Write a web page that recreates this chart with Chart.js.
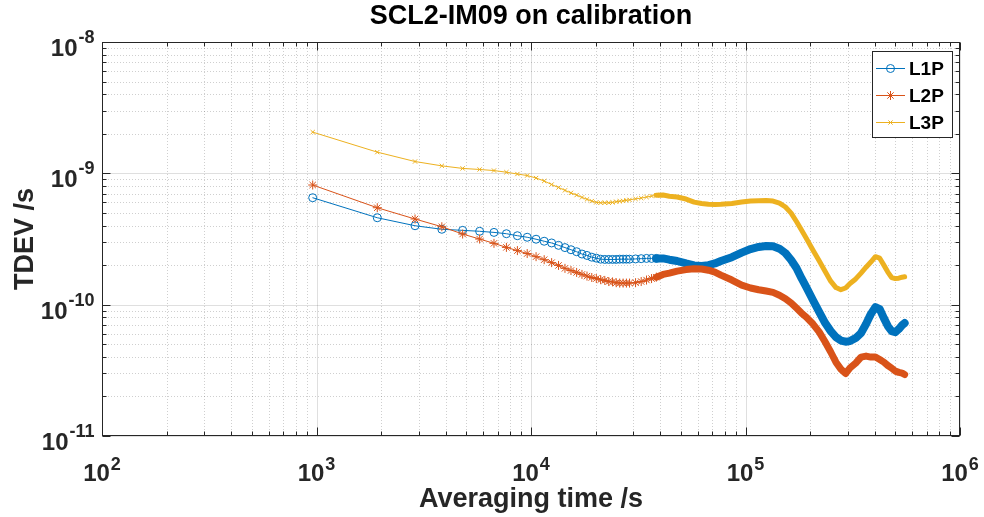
<!DOCTYPE html>
<html>
<head>
<meta charset="UTF-8">
<title>SCL2-IM09 on calibration</title>
<script src="https://cdn.jsdelivr.net/npm/chart.js@4"></script>
<style>
  html, body { margin: 0; padding: 0; background: #fff; }
  #wrap { width: 984px; height: 517px; }
</style>
</head>
<body>
<div id="wrap"><canvas id="tdev" width="984" height="517"></canvas></div>
<script>
// averaging time (s), multiples of 960 s
const taus = [
  960, 1920, 2880, 3840, 4800, 5760, 6720, 7680, 8640, 9600,
  10560, 11520, 12480, 13440, 14400, 15360, 16320, 17280, 18240, 19200,
  20160, 21120, 22080, 23040, 24000, 24960, 25920, 26880, 27840, 28800,
  30720, 32640, 34560, 36480, 38400, 41280, 44160, 48000, 52800, 57600,
  62400, 67200, 72000, 76800, 86400, 96000, 105600, 115200, 124800, 134400,
  144000, 153600, 163200, 172800, 182400, 192000, 206400, 220800, 235200, 249600,
  264000, 278400, 292800, 307200, 326400, 345600, 364800, 384000, 403200, 422400,
  441600, 460800, 480000, 499200, 518400, 537600, 552000
];

// TDEV (s)
const l1p = [
  6.52e-10, 4.59e-10, 3.99e-10, 3.75e-10, 3.68e-10, 3.62e-10, 3.55e-10, 3.47e-10, 3.35e-10, 3.26e-10,
  3.15e-10, 3.04e-10, 2.95e-10, 2.83e-10, 2.72e-10, 2.62e-10, 2.53e-10, 2.43e-10, 2.37e-10, 2.30e-10,
  2.26e-10, 2.22e-10, 2.21e-10, 2.21e-10, 2.21e-10, 2.21e-10, 2.22e-10, 2.22e-10, 2.22e-10, 2.22e-10,
  2.23e-10, 2.24e-10, 2.25e-10, 2.25e-10, 2.25e-10, 2.25e-10, 2.20e-10, 2.15e-10, 2.06e-10, 1.99e-10,
  1.97e-10, 2.00e-10, 2.06e-10, 2.15e-10, 2.30e-10, 2.49e-10, 2.65e-10, 2.75e-10, 2.80e-10, 2.78e-10,
  2.67e-10, 2.47e-10, 2.19e-10, 1.90e-10, 1.59e-10, 1.36e-10, 1.08e-10, 8.78e-11, 7.24e-11, 6.29e-11,
  5.66e-11, 5.33e-11, 5.22e-11, 5.28e-11, 5.57e-11, 6.08e-11, 7.12e-11, 8.48e-11, 9.59e-11, 9.26e-11,
  7.90e-11, 6.87e-11, 6.29e-11, 6.18e-11, 6.52e-11, 6.99e-11, 7.24e-11
];
const l2p = [
  8.15e-10, 5.47e-10, 4.49e-10, 3.92e-10, 3.45e-10, 3.16e-10, 2.93e-10, 2.73e-10, 2.58e-10, 2.45e-10,
  2.32e-10, 2.20e-10, 2.09e-10, 1.99e-10, 1.89e-10, 1.82e-10, 1.76e-10, 1.70e-10, 1.65e-10, 1.61e-10,
  1.58e-10, 1.55e-10, 1.53e-10, 1.50e-10, 1.49e-10, 1.47e-10, 1.46e-10, 1.46e-10, 1.46e-10, 1.46e-10,
  1.47e-10, 1.50e-10, 1.54e-10, 1.58e-10, 1.62e-10, 1.70e-10, 1.74e-10, 1.80e-10, 1.85e-10, 1.88e-10,
  1.87e-10, 1.83e-10, 1.77e-10, 1.68e-10, 1.54e-10, 1.41e-10, 1.34e-10, 1.30e-10, 1.27e-10, 1.24e-10,
  1.18e-10, 1.11e-10, 1.03e-10, 9.42e-11, 8.63e-11, 8.04e-11, 7.12e-11, 6.18e-11, 5.19e-11, 4.36e-11,
  3.65e-11, 3.23e-11, 2.99e-11, 3.30e-11, 3.59e-11, 3.99e-11, 4.06e-11, 3.99e-11, 3.99e-11, 3.82e-11,
  3.65e-11, 3.44e-11, 3.29e-11, 3.12e-11, 3.05e-11, 3.01e-11, 2.94e-11
];
const l3p = [
  2.06e-9, 1.45e-9, 1.23e-9, 1.14e-9, 1.09e-9, 1.07e-9, 1.05e-9, 1.02e-9, 9.88e-10, 9.62e-10,
  9.21e-10, 8.74e-10, 8.22e-10, 7.80e-10, 7.42e-10, 7.10e-10, 6.83e-10, 6.56e-10, 6.34e-10, 6.15e-10,
  6.01e-10, 5.97e-10, 5.97e-10, 5.97e-10, 6.01e-10, 6.08e-10, 6.13e-10, 6.17e-10, 6.23e-10, 6.28e-10,
  6.39e-10, 6.48e-10, 6.60e-10, 6.71e-10, 6.80e-10, 6.83e-10, 6.70e-10, 6.60e-10, 6.37e-10, 6.04e-10,
  5.89e-10, 5.81e-10, 5.80e-10, 5.81e-10, 5.89e-10, 6.04e-10, 6.15e-10, 6.18e-10, 6.20e-10, 6.15e-10,
  5.94e-10, 5.54e-10, 4.98e-10, 4.30e-10, 3.70e-10, 3.21e-10, 2.60e-10, 2.15e-10, 1.79e-10, 1.51e-10,
  1.35e-10, 1.30e-10, 1.34e-10, 1.45e-10, 1.57e-10, 1.74e-10, 1.93e-10, 2.11e-10, 2.32e-10, 2.26e-10,
  2.00e-10, 1.77e-10, 1.61e-10, 1.58e-10, 1.59e-10, 1.62e-10, 1.63e-10
];

const seriesNames = ['L1P', 'L2P', 'L3P'];
const xDecades = [1e2, 1e3, 1e4, 1e5, 1e6];
const xTickExp = ['2', '3', '4', '5', '6'];
const yDecades = [1e-11, 1e-10, 1e-9, 1e-8];
const yTickExp = ['-11', '-10', '-9', '-8'];

const titleText = 'SCL2-IM09 on calibration';
const xTitle = 'Averaging time /s';
const yTitle = 'TDEV /s';

// from this index on the markers pile up into a solid band
const denseFrom = 34;

const FONT = '"Liberation Sans", Arial, Helvetica, sans-serif';
const INK = '#262626';
const colors = ['#0072BD', '#D95319', '#EDB120'];
const styles = ['circle', 'star', 'crossRot'];
const radii = [4, 4.5, 3];
const bands = [8, 7, 5];

function makeSet(k, values) {
    return {
        label: seriesNames[k],
        order: 3 - k,
        data: taus.map((t, i) => ({ x: t, y: values[i] })),
        borderColor: colors[k],
        backgroundColor: colors[k],
        borderWidth: 1,
        borderJoinStyle: 'round',
        borderCapStyle: 'round',
        pointStyle: styles[k],
        pointRadius: ctx => ctx.dataIndex <= denseFrom ? radii[k] : 0,
        pointHoverRadius: 0,
        pointBorderWidth: 1,
        pointBorderColor: colors[k],
        pointBackgroundColor: 'rgba(0,0,0,0)',
        segment: {
            borderWidth: ctx => ctx.p0DataIndex >= denseFrom ? bands[k] : 1
        },
        tension: 0,
        fill: false
    };
}

// 10^n label with a raised exponent
function powLabel(ctx, exp, x, yBase, yExp, mode) {
    ctx.font = 'bold 24px ' + FONT;
    const wb = ctx.measureText('10').width;
    ctx.font = 'bold 18px ' + FONT;
    const we = ctx.measureText(exp).width;
    const left = mode === 'x' ? x - (wb + we + 1) / 2 : x - wb - we - 1;
    ctx.textAlign = 'left';
    ctx.textBaseline = 'alphabetic';
    ctx.font = 'bold 24px ' + FONT;
    ctx.fillText('10', left, yBase);
    ctx.font = 'bold 18px ' + FONT;
    ctx.fillText(exp, left + wb + 1, yExp);
}

function marker(ctx, style, x, y, r) {
    ctx.beginPath();
    if (style === 'circle') {
        ctx.arc(x, y, r, 0, Math.PI * 2);
    } else if (style === 'star') {
        const e = r * 0.7071;
        ctx.moveTo(x - r, y); ctx.lineTo(x + r, y);
        ctx.moveTo(x, y - r); ctx.lineTo(x, y + r);
        ctx.moveTo(x - e, y - e); ctx.lineTo(x + e, y + e);
        ctx.moveTo(x - e, y + e); ctx.lineTo(x + e, y - e);
    } else {
        const d = r * 0.7071;
        ctx.moveTo(x - d, y - d); ctx.lineTo(x + d, y + d);
        ctx.moveTo(x - d, y + d); ctx.lineTo(x + d, y - d);
    }
    ctx.stroke();
}

const matlabAxes = {
    id: 'matlabAxes',
    beforeDraw(chart) {
        const ctx = chart.ctx;
        ctx.save();
        ctx.fillStyle = '#fff';
        ctx.fillRect(0, 0, chart.width, chart.height);
        ctx.restore();
    },
    beforeDatasetsDraw(chart) {
        const ctx = chart.ctx, a = chart.chartArea;
        const xs = chart.scales.x, ys = chart.scales.y;
        ctx.save();
        ctx.lineWidth = 1;
        // minor grid, dotted
        ctx.setLineDash([1, 2]);
        ctx.strokeStyle = 'rgba(38,38,38,0.22)';
        for (let i = 0; i < xDecades.length - 1; i++) {
            for (let m = 2; m <= 9; m++) {
                const px = Math.round(xs.getPixelForValue(m * xDecades[i])) + 0.5;
                ctx.beginPath(); ctx.moveTo(px, a.top); ctx.lineTo(px, a.bottom); ctx.stroke();
            }
        }
        for (let i = 0; i < yDecades.length - 1; i++) {
            for (let m = 2; m <= 9; m++) {
                const py = Math.round(ys.getPixelForValue(m * yDecades[i])) + 0.5;
                ctx.beginPath(); ctx.moveTo(a.left, py); ctx.lineTo(a.right, py); ctx.stroke();
            }
        }
        // major grid, solid
        ctx.setLineDash([]);
        ctx.strokeStyle = 'rgba(38,38,38,0.15)';
        xDecades.forEach(v => {
            const px = Math.round(xs.getPixelForValue(v)) + 0.5;
            ctx.beginPath(); ctx.moveTo(px, a.top); ctx.lineTo(px, a.bottom); ctx.stroke();
        });
        yDecades.forEach(v => {
            const py = Math.round(ys.getPixelForValue(v)) + 0.5;
            ctx.beginPath(); ctx.moveTo(a.left, py); ctx.lineTo(a.right, py); ctx.stroke();
        });
        ctx.restore();
    },
    afterDatasetsDraw(chart) {
        const ctx = chart.ctx, a = chart.chartArea;
        const xs = chart.scales.x, ys = chart.scales.y;
        ctx.save();
        ctx.strokeStyle = INK;
        ctx.fillStyle = INK;
        ctx.lineWidth = 1;

        // tick marks on all four sides, pointing inwards
        const L = Math.round(a.left) + 0.5, R = Math.round(a.right) - 0.5;
        const T = Math.round(a.top) + 0.5, B = Math.round(a.bottom) - 0.5;
        function xTick(v, len) {
            const px = Math.round(xs.getPixelForValue(v)) + 0.5;
            ctx.beginPath();
            ctx.moveTo(px, B); ctx.lineTo(px, B - len);
            ctx.moveTo(px, T); ctx.lineTo(px, T + len);
            ctx.stroke();
        }
        function yTick(v, len) {
            const py = Math.round(ys.getPixelForValue(v)) + 0.5;
            ctx.beginPath();
            ctx.moveTo(L, py); ctx.lineTo(L + len, py);
            ctx.moveTo(R, py); ctx.lineTo(R - len, py);
            ctx.stroke();
        }
        for (let i = 0; i < xDecades.length - 1; i++) {
            for (let m = 2; m <= 9; m++) xTick(m * xDecades[i], 4);
        }
        xDecades.forEach(v => xTick(v, 8));
        for (let i = 0; i < yDecades.length - 1; i++) {
            for (let m = 2; m <= 9; m++) yTick(m * yDecades[i], 4);
        }
        yDecades.forEach(v => yTick(v, 8));

        // box
        ctx.strokeRect(L, T, R - L, B - T);

        // tick labels
        xDecades.forEach((v, i) => {
            const px = xs.getPixelForValue(v);
            powLabel(ctx, xTickExp[i], px, a.bottom + 45, a.bottom + 34, 'x');
        });
        yDecades.forEach((v, i) => {
            const py = ys.getPixelForValue(v);
            powLabel(ctx, yTickExp[i], a.left - 7.5, py + 14, py + 1, 'y');
        });

        // title and axis titles
        const cx = (a.left + a.right) / 2, cy = (a.top + a.bottom) / 2;
        ctx.font = 'bold 27px ' + FONT;
        ctx.textAlign = 'center';
        ctx.textBaseline = 'alphabetic';
        ctx.fillStyle = '#000';
        ctx.fillText(titleText, cx, 24);
        ctx.fillStyle = INK;
        ctx.fillText(xTitle, cx, 507);
        ctx.save();
        ctx.translate(33, cy);
        ctx.rotate(-Math.PI / 2);
        ctx.fillText(yTitle, 0, 0);
        ctx.restore();

        // legend
        const lx = 872.5, ly = 51.5, lw = 80, lh = 86;
        ctx.fillStyle = '#fff';
        ctx.fillRect(lx, ly, lw, lh);
        ctx.strokeStyle = INK;
        ctx.strokeRect(lx, ly, lw, lh);
        ctx.font = 'bold 19px ' + FONT;
        ctx.textAlign = 'left';
        seriesNames.forEach((name, k) => {
            const ry = 68 + k * 27;
            ctx.strokeStyle = colors[k];
            ctx.lineWidth = 1;
            ctx.beginPath(); ctx.moveTo(876, ry + 0.5); ctx.lineTo(905, ry + 0.5); ctx.stroke();
            marker(ctx, styles[k], 890.5, ry + 0.5, radii[k]);
            ctx.fillStyle = '#000';
            ctx.fillText(name, 909, ry + 7);
        });
        ctx.restore();
    }
};

new Chart(document.getElementById('tdev'), {
    type: 'line',
    data: { datasets: [makeSet(0, l1p), makeSet(1, l2p), makeSet(2, l3p)] },
    options: {
        responsive: false,
        devicePixelRatio: 1,
        animation: false,
        layout: { padding: { left: 102, right: 24, top: 42, bottom: 81 } },
        plugins: {
            legend: { display: false },
            title: { display: false },
            tooltip: { enabled: false }
        },
        scales: {
            x: { type: 'logarithmic', min: 1e2, max: 1e6, display: false },
            y: { type: 'logarithmic', min: 1e-11, max: 1e-8, display: false }
        }
    },
    plugins: [matlabAxes]
});
</script>
</body>
</html>
